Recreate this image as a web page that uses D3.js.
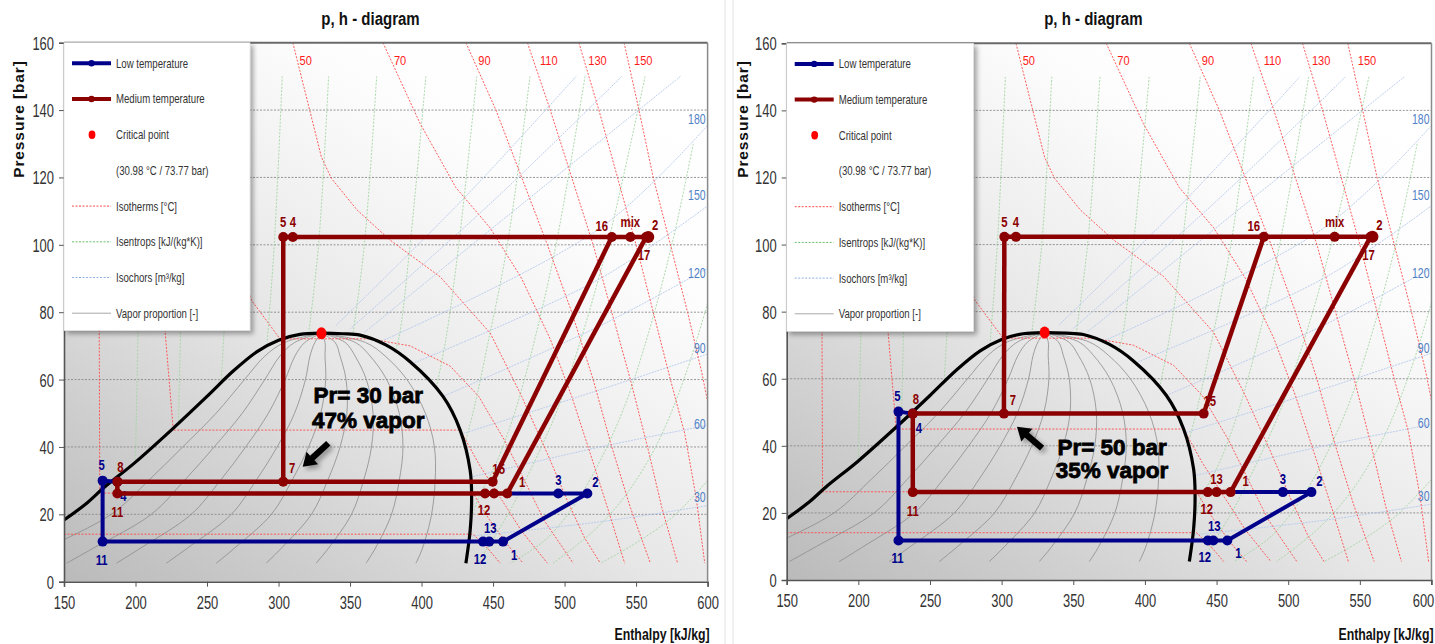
<!DOCTYPE html>
<html>
<head>
<meta charset="utf-8">
<script src="https://cdn.jsdelivr.net/npm/d3@7"></script>
<style>
  body { margin: 0; background: #fff; }
  svg { display: block; }
</style>
</head>
<body>
<svg id="chart" width="1435" height="644"></svg>
<script>
// ---- axis ticks ----
const hTicks = [150, 200, 250, 300, 350, 400, 450, 500, 550, 600];
const pTicks = [0, 20, 40, 60, 80, 100, 120, 140, 160];

// ---- saturation dome (h kJ/kg, p bar) ----
const domeH = [150, 165, 177.6, 200, 226.5, 250, 268.5, 285, 300, 315, 330, 345, 357, 375, 392, 415, 427, 434, 435, 434, 431];
const domeP = [18.3, 23, 27.8, 35.5, 45.6, 55, 62.6, 68.3, 71.7, 73.4, 73.77, 73.6, 73.2, 70.3, 65.3, 55, 45, 33, 25, 15.3, 5.5];
const critH = 330, critP = 73.77;

// ---- vapor proportion lines 0.1 .. 0.9 ----
const qualityP = [5.5, 10, 20, 30, 40, 50, 60, 67, 71, 73.77];
const quality01 = [116.9, 137.9, 183, 209, 233, 256.3, 276.2, 290.5, 304.1, 330];
const quality02 = [151.8, 170.7, 211, 234.1, 255, 274.6, 290.4, 301, 311.2, 330];
const quality03 = [186.7, 203.6, 239, 259.2, 277, 292.9, 304.6, 311.5, 318.3, 330];
const quality04 = [221.6, 236.4, 267, 284.2, 299, 311.2, 318.8, 322, 325.4, 330];
const quality05 = [256.5, 269.3, 295, 309.3, 321, 329.5, 333, 332.5, 332.5, 330];
const quality06 = [291.4, 302.1, 323, 334.3, 343, 347.8, 347.2, 343, 339.6, 330];
const quality07 = [326.3, 335, 351, 359.4, 365, 366.1, 361.4, 353.5, 346.7, 330];
const quality08 = [361.2, 367.8, 379, 384.4, 387, 384.4, 375.6, 364, 353.8, 330];
const quality09 = [396.1, 400.7, 407, 409.5, 409, 402.7, 389.8, 374.5, 360.9, 330];
const qualityLines = [quality01, quality02, quality03, quality04, quality05, quality06, quality07, quality08, quality09];

// ---- isotherms [°C], pairs of (h, p) ----
const isothermT = [-30, -10, 10, 30, 50, 70, 90, 110, 130, 150];
const isotherms = [
  [[150, 14.1], [436, 14.1], [446, 10], [455, 5.5]],
  [[174, 160], [175, 26.3], [436, 26.3], [448, 18], [460, 11], [471, 5.5]],
  [[213, 160], [220.6, 74.7], [226.4, 45], [427, 45], [440, 35], [455, 25], [470, 15], [488, 5.5]],
  [[258, 160], [262, 130], [270, 100], [281, 83.6], [301, 72.1], [364, 72.1], [392, 70], [420, 64], [440, 55], [458, 42], [472, 30], [486, 18], [506, 5.5]],
  [[310, 160], [330, 126], [337, 119.7], [355, 110.3], [378, 101.4], [413, 90.5], [448, 73.8], [470, 55], [488, 38], [502, 24], [514, 13], [525, 5.5]],
  [[373, 160], [399, 136], [424, 117], [448, 105], [470, 90], [490, 72], [505, 55], [518, 38], [530, 22], [542, 5.5]],
  [[431, 160], [452, 140], [470, 120], [488, 100], [505, 80], [520, 60], [533, 40], [546, 22], [560, 5.5]],
  [[474, 160], [490, 140], [505, 120], [520, 100], [533, 80], [546, 60], [558, 40], [568, 22], [579, 5.5]],
  [[510, 160], [524, 140], [537, 120], [550, 100], [562, 80], [574, 60], [584, 44], [592, 25], [598, 5.5]],
  [[541.6, 160], [552, 140], [562, 120], [574, 100], [586, 80], [596, 62], [604, 45]]
];
const isothermLabels = [50, 70, 90, 110, 130, 150];
const isothermLabelH = [319, 385, 444, 489, 523, 555];

// ---- isentrops ----
const isentrops = [
  [[206, 150], [203, 100], [200, 36]],
  [[236, 150], [233, 100], [230, 47]],
  [[269, 150], [265, 100], [260, 60]],
  [[302.6, 150], [297, 100], [292, 71]],
  [[335, 150], [328, 100], [321, 73.6]],
  [[368.6, 150], [360, 100], [352, 73.4]],
  [[403, 150], [392, 100], [384, 72], [381, 68]],
  [[438.6, 150], [426, 100], [417, 72], [410, 57]],
  [[475.8, 150], [460, 100], [446, 70], [437, 52], [431, 42]],
  [[514.3, 150], [494, 100], [478, 70], [465, 50], [452, 35], [440, 25], [435, 19]],
  [[556.3, 150], [530, 100], [510, 70], [494, 50], [476, 33], [463, 22], [452, 14], [443, 8], [438, 5.5]],
  [[590, 130], [575, 100], [556, 70], [540, 50], [520, 32], [504, 21], [488, 13], [472, 8], [462, 5.5]],
  [[600, 82.7], [585, 62], [566, 42], [545, 27], [525, 17], [506, 10], [492, 5.5]],
  [[600, 30], [575, 19], [548, 11], [525, 5.5]]
];

// ---- isochors ----
const isochors = [
  [[435, 13.5], [525, 17.8], [600, 22.6]],
  [[434, 31], [525, 40], [600, 46.4]],
  [[429, 44], [525, 57], [600, 67.6]],
  [[415, 55], [525, 76], [600, 93]],
  [[395, 65], [525, 90], [600, 111.6]],
  [[370, 71], [525, 105], [600, 135.5]],
  [[360, 74], [470, 112], [581, 150]],
  [[350, 75], [450, 113], [540, 150]],
  [[340, 76], [430, 114], [508, 150]]
];
const isochorLabels = [180, 150, 120, 90, 60, 30];
const isochorLabelP = [137.5, 114.8, 91.6, 69.3, 47.0, 25.2];

// ---- cycle, left diagram (Pr = 30 bar) ----
const medNames = ["5", "4", "16", "mix", "2", "17", "7", "8", "11", "15", "12", "13", "1"];
const medHA = [303.3, 310, 533, 546, 558.5, 557, 303.3, 187.3, 187.3, 449.7, 444.4, 450.7, 459.9];
const medPA = [102.3, 102.3, 102.3, 102.3, 102.3, 102.3, 29.7, 29.7, 26.2, 29.7, 26.2, 26.2, 26.2];
const lowNames = ["5", "4", "11", "12", "13", "1", "2", "3", "j"];
const lowHA = [177, 187.3, 177, 443, 447.3, 457, 515.9, 495.6, 459.9];
const lowPA = [30, 29.7, 11.9, 11.9, 11.9, 11.9, 26.2, 26.2, 26.2];

// ---- cycle, right diagram (Pr = 50 bar) ----
const medHB = [301.9, 310, 483, 532.4, 558.8, 557.5, 301.6, 238, 238, 441, 443.9, 450, 459.8];
const medPB = [102.3, 102.3, 102.3, 102.3, 102.3, 102.3, 49.6, 49.6, 26.2, 49.6, 26.2, 26.2, 26.2];
const lowHB = [228, 238, 228, 443.9, 447.7, 457.5, 516.2, 496.3, 459.8];
const lowPB = [50.2, 49.6, 11.8, 11.8, 11.8, 11.8, 26.2, 26.2, 26.2];

const medSegments = [["5", "2"], ["5", "7"], ["8", "15"], ["8", "11"], ["11", "1"], ["15", "16"], ["1", "17"]];
const lowSegments = [["4", "5", "11", "1", "2", "j"]];

const legendItems = ["Low temperature", "Medium temperature", "Critical point", "(30.98 °C / 73.77 bar)",
  "Isotherms [°C]", "Isentrops [kJ/(kg*K)]", "Isochors [m³/kg]", "Vapor proportion [-]"];

// label placement around the markers (pixels)
const medLabelOffset = {"5": [0, -15], "4": [0, -15], "16": [-10, -11], "mix": [0, -15], "2": [7, -12], "17": [-2, 18],
  "7": [9, -14], "8": [3, -15], "11": [0, 19], "15": [6, -13], "12": [-1, 17], "13": [0, -13], "1": [15, -11]};
const lowLabelOffset = {"5": [-1, -16], "4": [6, 14], "11": [-1, 18], "12": [-3, 17], "13": [1, -14], "1": [11, 13], "2": [8, -11], "3": [0, -13]};

const SANS = "'Liberation Sans',Arial,sans-serif";
const RED = "#8b0000", BLUE = "#00008b";

const svg = d3.select("#chart");
const defs = svg.append("defs");
const grad = defs.append("linearGradient").attr("id", "bg")
  .attr("x1", 0).attr("y1", 1).attr("x2", 0.8).attr("y2", 0);
grad.append("stop").attr("offset", 0).attr("stop-color", "#bababa");
grad.append("stop").attr("offset", 0.45).attr("stop-color", "#e6e6e6");
grad.append("stop").attr("offset", 0.8).attr("stop-color", "#fdfdfd");
grad.append("stop").attr("offset", 1).attr("stop-color", "#ffffff");
const shadow = defs.append("filter").attr("id", "shadow")
  .attr("x", "-10%").attr("y", "-10%").attr("width", "130%").attr("height", "130%");
shadow.append("feDropShadow").attr("dx", 3).attr("dy", 3).attr("stdDeviation", 2.5)
  .attr("flood-color", "#000").attr("flood-opacity", 0.35);

// panel separator
[725, 733].forEach(function (sx) {
  svg.append("line").attr("x1", sx).attr("x2", sx).attr("y1", 0).attr("y2", 644)
    .attr("stroke", "#e2e2e2").attr("stroke-width", 1);
});

// squeeze text horizontally (the original uses a condensed face)
function squeeze(sel, k) {
  sel.each(function () {
    var t = d3.select(this);
    var tx = +t.attr("x") || 0, ty = +t.attr("y") || 0;
    t.attr("x", 0).attr("y", 0).attr("transform", "translate(" + tx + "," + ty + ") scale(" + k + ",1)");
  });
}

function drawArrow(g, x1, y1, x2, y2) {
  var dx = x2 - x1, dy = y2 - y1, L = Math.hypot(dx, dy);
  var ux = dx / L, uy = dy / L, nx = -uy, ny = ux;
  var hl = 13, hw = 8.5, sw = 3.2;
  var bx = x2 - ux * hl, by = y2 - uy * hl;
  var pts = [[x1 + nx * sw, y1 + ny * sw], [bx + nx * sw, by + ny * sw], [bx + nx * hw, by + ny * hw], [x2, y2],
    [bx - nx * hw, by - ny * hw], [bx - nx * sw, by - ny * sw], [x1 - nx * sw, y1 - ny * sw]];
  g.append("polygon").attr("points", pts.map(function (p) { return p.join(","); }).join(" "))
    .attr("fill", "#000").attr("filter", "url(#shadow)");
}

function drawPanel(P) {
  var x = d3.scaleLinear().domain([150, 600]).range([P.x0, P.x1]);
  var y = d3.scaleLinear().domain([0, 160]).range([P.y0, P.y1]);
  var g = svg.append("g");
  var clipId = "clip" + P.id;
  defs.append("clipPath").attr("id", clipId).append("rect")
    .attr("x", P.x0).attr("y", P.y1).attr("width", P.x1 - P.x0).attr("height", P.y0 - P.y1);

  g.append("rect").attr("x", P.x0).attr("y", P.y1).attr("width", P.x1 - P.x0).attr("height", P.y0 - P.y1)
    .attr("fill", "url(#bg)");

  // title
  squeeze(g.append("text").attr("x", P.titleX).attr("y", 25).attr("text-anchor", "middle")
    .attr("font-family", SANS).attr("font-weight", "bold").attr("font-size", 19).attr("fill", "#111")
    .text("p, h - diagram"), 0.79);

  // grid
  g.append("g").selectAll("line").data(pTicks.filter(function (p) { return p > 0 && p < 160; }))
    .join("line")
    .attr("x1", P.x0).attr("x2", P.x1).attr("y1", function (d) { return y(d); }).attr("y2", function (d) { return y(d); })
    .attr("stroke", "#8a8a8a").attr("stroke-width", 0.9).attr("stroke-dasharray", "2,1.5");

  var inner = g.append("g").attr("clip-path", "url(#" + clipId + ")");
  var smooth = d3.line().x(function (d) { return x(d[0]); }).y(function (d) { return y(d[1]); }).curve(d3.curveCatmullRom.alpha(0.5));
  var straight = d3.line().x(function (d) { return x(d[0]); }).y(function (d) { return y(d[1]); });

  // vapor proportion
  inner.append("g").selectAll("path").data(qualityLines).join("path")
    .attr("d", function (hs) { return smooth(hs.map(function (h, i) { return [h, qualityP[i]]; })); })
    .attr("fill", "none").attr("stroke", "#8c8c8c").attr("stroke-width", 0.8);
  // isentrops
  inner.append("g").selectAll("path").data(isentrops).join("path")
    .attr("d", smooth).attr("fill", "none").attr("stroke", "#a3d5a3").attr("stroke-width", 0.9)
    .attr("stroke-dasharray", "2,1.5");
  // isochors
  inner.append("g").selectAll("path").data(isochors).join("path")
    .attr("d", smooth).attr("fill", "none").attr("stroke", "#b5c8ec").attr("stroke-width", 0.9)
    .attr("stroke-dasharray", "2,1");
  // isotherms
  inner.append("g").selectAll("path").data(isotherms).join("path")
    .attr("d", straight).attr("fill", "none").attr("stroke", "#ff4a4a").attr("stroke-width", 0.9)
    .attr("stroke-dasharray", "2,1.5");

  // isotherm labels
  squeeze(g.append("g").selectAll("text").data(isothermLabels).join("text")
    .attr("x", function (d, i) { return x(isothermLabelH[i]); }).attr("y", y(154.8))
    .attr("text-anchor", "middle").attr("dominant-baseline", "central")
    .attr("font-family", SANS).attr("font-size", 13.5).attr("fill", "#ff1a1a")
    .text(function (d) { return d; }), 0.82);
  // isochor labels
  squeeze(g.append("g").selectAll("text").data(isochorLabels).join("text")
    .attr("x", P.x1 - 2).attr("y", function (d, i) { return y(isochorLabelP[i]); })
    .attr("text-anchor", "end").attr("dominant-baseline", "central")
    .attr("font-family", SANS).attr("font-size", 15).attr("fill", "#4f80c6")
    .text(function (d) { return d; }), 0.7);

  // dome
  inner.append("path").attr("d", smooth(domeH.map(function (h, i) { return [h, domeP[i]]; })))
    .attr("fill", "none").attr("stroke", "#000").attr("stroke-width", 3.2);
  // critical point
  g.append("ellipse").attr("cx", x(critH)).attr("cy", y(critP)).attr("rx", 5).attr("ry", 6).attr("fill", "#ff0000");

  // axes
  var yAxis = g.append("g").attr("transform", "translate(" + P.x0 + ",0)")
    .call(d3.axisLeft(y).tickValues(pTicks).tickSize(5).tickPadding(5));
  var xAxis = g.append("g").attr("transform", "translate(0," + P.y0 + ")")
    .call(d3.axisBottom(x).tickValues(hTicks).tickSize(5).tickPadding(9));
  [yAxis, xAxis].forEach(function (a) {
    a.select(".domain").attr("stroke", "#555").attr("stroke-width", 1.6);
    a.selectAll(".tick line").attr("stroke", "#555");
    a.selectAll("text").attr("font-family", SANS).attr("font-size", 18.5).attr("fill", "#333");
  });
  yAxis.selectAll("text").attr("dy", "0.35em");
  squeeze(yAxis.selectAll("text"), 0.7);
  squeeze(xAxis.selectAll("text"), 0.7);
  if (P.lastTickShift) {
    xAxis.selectAll(".tick").filter(function (d) { return d === 600; })
      .attr("transform", "translate(" + (x(600) + P.lastTickShift) + ",0)").select("line")
      .attr("x1", -P.lastTickShift).attr("x2", -P.lastTickShift);
  }
  // top and right frame
  g.append("line").attr("x1", P.x0).attr("x2", P.x1).attr("y1", P.y1).attr("y2", P.y1)
    .attr("stroke", "#6a6a6a").attr("stroke-width", 2);
  g.append("line").attr("x1", P.x1).attr("x2", P.x1).attr("y1", P.y1).attr("y2", P.y0)
    .attr("stroke", "#8a8a8a").attr("stroke-width", 1.5);

  // axis titles
  g.append("text").attr("transform", "translate(" + P.yLabelX + ",119) rotate(-90)")
    .attr("text-anchor", "middle").attr("dominant-baseline", "central")
    .attr("font-family", SANS).attr("font-weight", "bold").attr("font-size", 15.5).attr("letter-spacing", 0.9)
    .attr("fill", "#111").text("Pressure [bar]");
  squeeze(g.append("text").attr("x", P.x1 + 2).attr("y", 634).attr("text-anchor", "end").attr("dominant-baseline", "central")
    .attr("font-family", SANS).attr("font-weight", "bold").attr("font-size", 16).attr("fill", "#111")
    .text("Enthalpy [kJ/kg]"), 0.77);

  // cycles
  function cycle(names, hs, ps, segments, color, width, offsets, hidden) {
    var pt = {};
    names.forEach(function (n, i) { pt[n] = [hs[i], ps[i]]; });
    var cg = g.append("g");
    cg.selectAll("path").data(segments).join("path")
      .attr("d", function (s) { return straight(s.map(function (n) { return pt[n]; })); })
      .attr("fill", "none").attr("stroke", color).attr("stroke-width", width).attr("stroke-linejoin", "round");
    var shown = names.filter(function (n) { return n !== "j"; });
    cg.selectAll("circle").data(shown).join("circle")
      .attr("cx", function (n) { return x(pt[n][0]); }).attr("cy", function (n) { return y(pt[n][1]); })
      .attr("r", function (n) { return n === "2" && color === RED ? 6 : 5; }).attr("fill", color);
    squeeze(cg.selectAll("text").data(shown.filter(function (n) { return hidden.indexOf(n) < 0; })).join("text")
      .attr("x", function (n) { return x(pt[n][0]) + offsets[n][0]; })
      .attr("y", function (n) { return y(pt[n][1]) + offsets[n][1]; })
      .attr("text-anchor", "middle").attr("dominant-baseline", "central")
      .attr("font-family", SANS).attr("font-weight", "bold").attr("font-size", 14.5).attr("fill", color)
      .text(function (n) { return n; }), 0.78);
  }
  cycle(lowNames, P.lowH, P.lowP, lowSegments, BLUE, 4, lowLabelOffset, []);
  cycle(medNames, P.medH, P.medP, medSegments, RED, 4.5, medLabelOffset, P.hideMed);

  // legend
  var lg = g.append("g").attr("transform", "translate(" + P.x0 + "," + P.y1 + ")");
  lg.append("rect").attr("x", 0).attr("y", 0).attr("width", P.legendW).attr("height", 288)
    .attr("fill", "#fff").attr("stroke", "#d8d8d8").attr("stroke-width", 0.6).attr("filter", "url(#shadow)");
  var item = lg.selectAll("g.item").data(legendItems).join("g").attr("class", "item")
    .attr("transform", function (d, i) { return "translate(0," + (20.6 + i * 35.7) + ")"; });
  squeeze(item.append("text").attr("x", 52).attr("y", 0).attr("dominant-baseline", "central")
    .attr("font-family", SANS).attr("font-size", 12.5).attr("fill", "#333").text(function (d) { return d; }), 0.77);
  var swatch = [
    {stroke: BLUE, w: 4, dash: null, dot: BLUE},
    {stroke: RED, w: 4, dash: null, dot: RED},
    null, null,
    {stroke: "#ff4a4a", w: 1, dash: "2,1.5"},
    {stroke: "#6cbf6c", w: 1, dash: "2,1.5"},
    {stroke: "#8fb0e6", w: 1, dash: "2,1.5"},
    {stroke: "#a8a8a8", w: 1, dash: null}
  ];
  item.each(function (d, i) {
    var s = swatch[i], it = d3.select(this);
    if (i === 2) {
      it.append("ellipse").attr("cx", 28).attr("cy", 0).attr("rx", 3.4).attr("ry", 4.2).attr("fill", "#ff0000");
      return;
    }
    if (!s) return;
    it.append("line").attr("x1", 8).attr("x2", 47).attr("y1", 0).attr("y2", 0)
      .attr("stroke", s.stroke).attr("stroke-width", s.w).attr("stroke-dasharray", s.dash);
    if (s.dot) it.append("circle").attr("cx", 27.5).attr("cy", 0).attr("r", 3.2).attr("fill", s.dot);
  });

  // annotation
  var ng = g.append("g");
  ng.selectAll("text").data(P.note).join("text")
    .attr("x", x(P.noteH)).attr("y", function (d, i) { return y(P.noteP[i]); })
    .attr("text-anchor", "middle").attr("dominant-baseline", "central")
    .attr("font-family", SANS).attr("font-weight", "bold").attr("font-size", 22.5)
    .attr("fill", "#000").attr("stroke", "#000").attr("stroke-width", 0.8)
    .text(function (d) { return d; });
  drawArrow(ng, x(P.arrowTail[0]), y(P.arrowTail[1]), x(P.arrowTip[0]), y(P.arrowTip[1]));
}

drawPanel({
  id: "A", x0: 64, x1: 707.6, y0: 581.7, y1: 42.7, titleX: 370.5, yLabelX: 18.7, legendW: 186,
  medH: medHA, medP: medPA, lowH: lowHA, lowP: lowPA, hideMed: ["13"], lastTickShift: 0,
  note: ["Pr= 30 bar", "47% vapor"], noteH: 362.8, noteP: [55.4, 47.8],
  arrowTail: [334.8, 41.1], arrowTip: [316.9, 34.1]
});
drawPanel({
  id: "B", x0: 786.7, x1: 1431.5, y0: 580, y1: 43.3, titleX: 1093.3, yLabelX: 742, legendW: 187,
  medH: medHB, medP: medPB, lowH: lowHB, lowP: lowPB, hideMed: [], lastTickShift: -8,
  note: ["Pr= 50 bar", "35% vapor"], noteH: 377.1, noteP: [39.6, 32.5],
  arrowTail: [328.2, 39.3], arrowTip: [310.7, 45.7]
});
</script>
</body>
</html>
